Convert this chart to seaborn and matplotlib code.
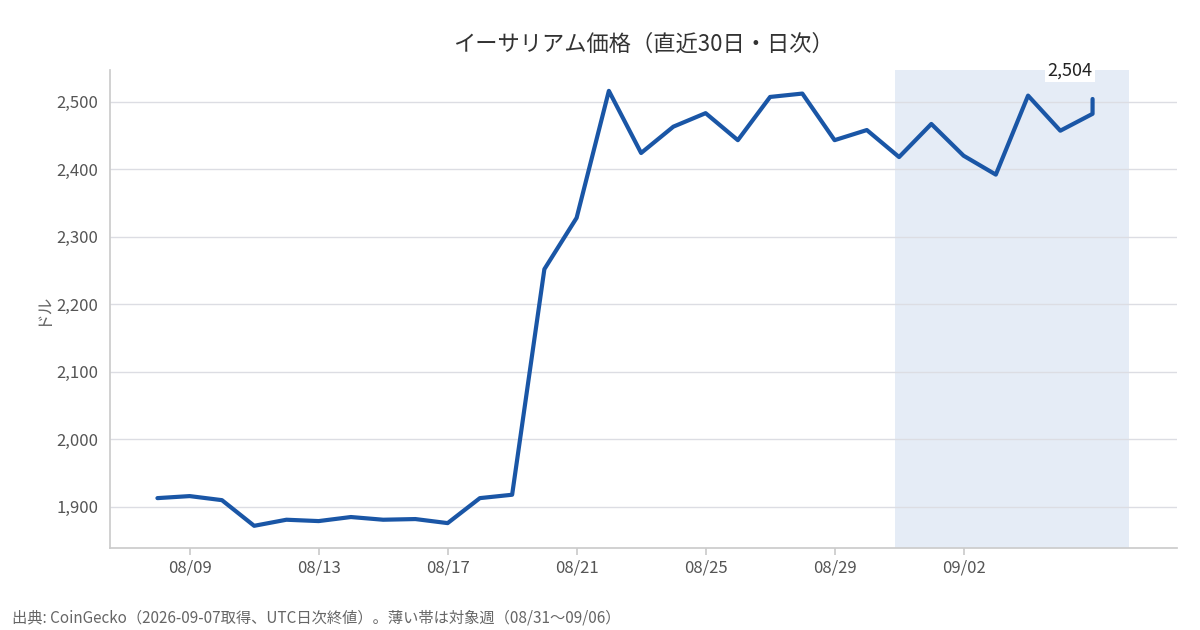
import matplotlib
matplotlib.use("Agg")
import matplotlib.pyplot as plt
import matplotlib.dates as mdates
import matplotlib.ticker as mticker
import seaborn as sns
import pandas as pd
import numpy as np

dates = list(pd.date_range("2026-08-08", "2026-09-06", freq="D")) + [pd.Timestamp("2026-09-06 12:00")]
dates[-1] = pd.Timestamp("2026-09-06 00:01")
prices = [1913, 1916, 1910, 1872, 1881, 1879, 1885, 1881, 1882, 1876,
          1913, 1918, 2252, 2328, 2516, 2424, 2463, 2483, 2443, 2507,
          2512, 2443, 2458, 2418, 2467, 2420, 2392, 2509, 2457, 2482, 2504]
band_start, band_end = pd.Timestamp("2026-08-30 21:00"), pd.Timestamp("2026-09-07 03:00")
xticks = pd.date_range("2026-08-09", "2026-09-05", freq="4D")

sns.set_theme(style="white")
plt.rcParams['font.family'] = ['Noto Sans CJK JP', 'DejaVu Sans']

df = pd.DataFrame({"date": dates, "price": prices})
fig, ax = plt.subplots(figsize=(12, 6.3), dpi=100)
fig.subplots_adjust(left=0.092, right=0.981, top=0.889, bottom=0.13)
ax.axvspan(band_start, band_end, color="#e5ecf6", zorder=0, lw=0)
sns.lineplot(data=df, x="date", y="price", ax=ax, color="#1a56a6", lw=3, sort=False, zorder=3)
ax.set_xlim(pd.Timestamp("2026-08-06 13:00"), pd.Timestamp("2026-09-08 15:00"))
ax.set_ylim(1839, 2547)
ax.set_xticks(xticks)
ax.xaxis.set_major_formatter(mdates.DateFormatter("%m/%d"))
ax.yaxis.set_major_locator(mticker.MultipleLocator(100))
ax.yaxis.set_major_formatter(mticker.FuncFormatter(lambda v, p: f"{int(v):,}"))
ax.grid(axis="y", color="#dcdde3", lw=1)
for s in ["top", "right"]:
    ax.spines[s].set_visible(False)
for s in ["left", "bottom"]:
    ax.spines[s].set_color("#cccccc")
ax.tick_params(axis="both", colors="#555555", labelsize=12, length=5, color="#cccccc", left=False, bottom=True)
ax.tick_params(axis="y", left=False)
ax.set_xlabel("")
ax.set_ylabel("ドル", color="#666666", fontsize=12)
ax.set_title("イーサリアム価格（直近30日・日次）", fontsize=16, color="#333333", pad=14)
ax.annotate(f"{prices[-1]:,}", (dates[-1], prices[-1]), xytext=(0, 14), textcoords="offset points",
            ha="right", va="bottom", fontsize=13, color="#222222",
            bbox=dict(boxstyle="square,pad=0.15", fc="white", ec="none"), zorder=5)
fig.text(0.01, 0.012, "出典: CoinGecko（2026-09-07取得、UTC日次終値）。薄い帯は対象週（08/31〜09/06）",
         fontsize=11, color="#666666")
fig.savefig("out.png")
